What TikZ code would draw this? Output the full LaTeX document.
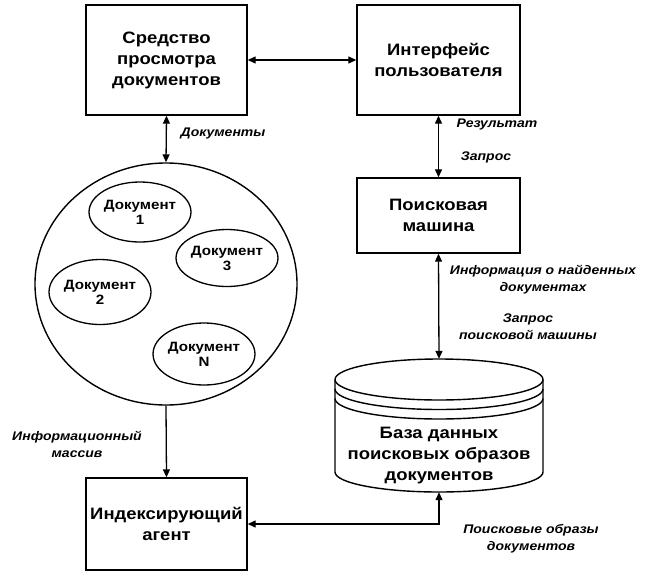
\documentclass[tikz,border=0pt]{standalone}
\usepackage{fontspec}
\setmainfont{Liberation Sans}[FakeStretch=1.12]
\usetikzlibrary{arrows.meta,shapes.geometric}
\begin{document}
\begin{tikzpicture}[x=1pt,y=-1pt,
  box/.style={draw, line width=1.4pt, align=center, inner sep=0pt,
    font=\fontsize{16.5}{21}\selectfont\bfseries},
  lab/.style={align=center, inner sep=0pt,
    font=\fontsize{12.5}{17}\selectfont\bfseries\itshape},
  doc/.style={draw, ellipse, line width=1.3pt, inner sep=0pt, align=center,
    font=\fontsize{13.5}{15}\selectfont\bfseries},
  tip/.tip={Triangle[length=8pt,width=7pt]},
  con/.style={line width=1.3pt, tip-tip},
  one/.style={line width=1.3pt, -tip}]
\useasboundingbox[fill=white] (0,0) rectangle (653,584);

\node[box, minimum width=161pt, minimum height=110pt] (view) at (166.5,60) {Средство\\просмотра\\документов};
\node[box, minimum width=163pt, minimum height=110pt] (ui) at (438.5,60) {Интерфейс\\пользователя};
\node[box, minimum width=163pt, minimum height=75pt] (search) at (438.5,215.5) {Поисковая\\машина};
\node[box, minimum width=161pt, minimum height=92pt] (agent) at (166.5,524) {Индексирующий\\агент};

\node[draw, ellipse, line width=1.4pt, minimum width=262pt, minimum height=242pt, inner sep=0pt] (mass) at (166,284) {};
\node[doc, minimum width=98pt, minimum height=60pt] (d1) at (140,212) {Документ\\1};
\node[doc, minimum width=99pt, minimum height=57pt] (d3) at (227,258) {Документ\\3};
\node[doc, minimum width=99pt, minimum height=65pt] (d2) at (100,292) {Документ\\2};
\node[doc, minimum width=100pt, minimum height=62pt] (dn) at (204,354) {Документ\\N};

% database cylinder
\node[minimum width=208pt, minimum height=133pt, inner sep=0pt] (db) at (439,425.5) {};
\begin{scope}[line width=1.4pt]
\draw (439,379.5) ellipse [x radius=104, y radius=20.5];
\draw (335,389) arc[start angle=180, end angle=0, x radius=104, y radius=20.5];
\draw (335,398.5) arc[start angle=180, end angle=0, x radius=104, y radius=20.5];
\draw (335,379.5) -- (335,472) arc[start angle=180, end angle=0, x radius=104, y radius=20] -- (543,379.5);
\end{scope}
\node[align=center, inner sep=0pt, font=\fontsize{16.5}{21}\selectfont\bfseries] (dbtext) at (439,456) {База данных\\поисковых образов\\документов};

% connectors
\draw[con] (view.east) -- (ui.west);
\draw[con] (view.south) -- (mass.north);
\draw[one] (mass.south) -- (agent.north);
\draw[con] (ui.south) -- (search.north);
\draw[con] (search.south) -- (db.north);
\draw[con] (agent.east) -| (db.south);

% labels
\node[lab] (l1) at (223,133) {Документы};
\node[lab] (l2) at (497,124) {Результат};
\node[lab] (l3) at (486,157) {Запрос};
\node[lab] (l4) at (543,279.5) {Информация о найденных\\документах};
\node[lab] (l5) at (528,326.5) {Запрос\\поисковой машины};
\node[lab] (l6) at (77,444) {Информационный\\массив};
\node[lab] (l7) at (531,538.5) {Поисковые образы\\документов};
\end{tikzpicture}
\end{document}
